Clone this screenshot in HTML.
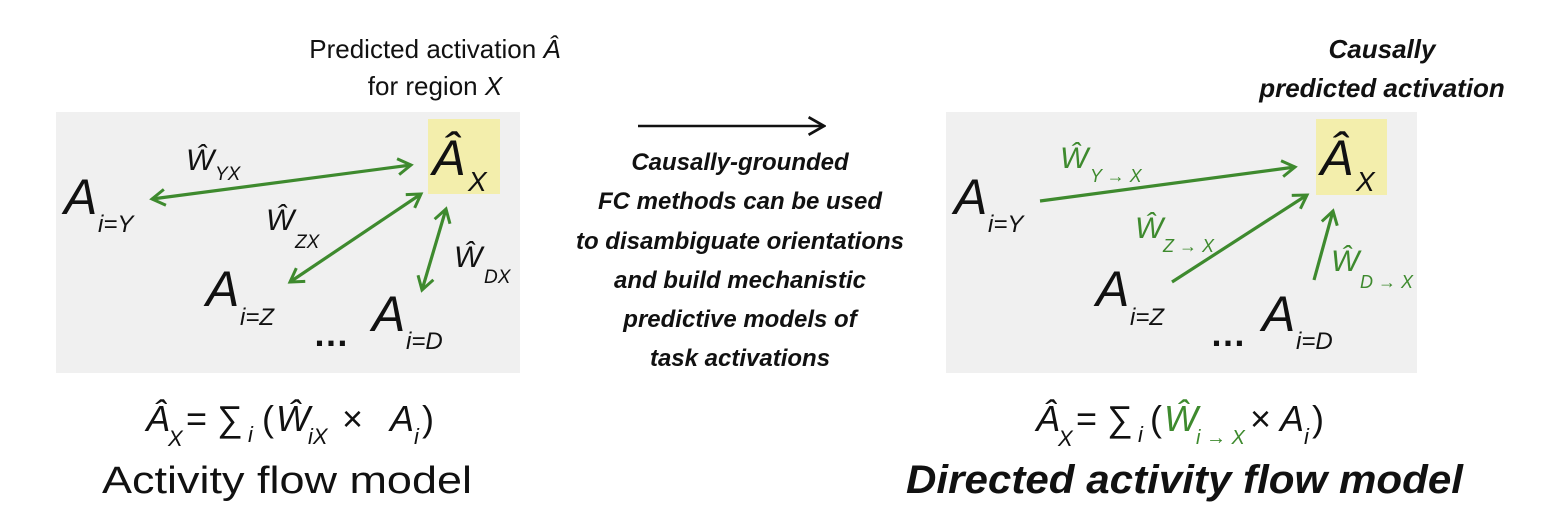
<!DOCTYPE html>
<html><head><meta charset="utf-8"><style>
html,body{margin:0;padding:0;background:#fff;width:1568px;height:530px;overflow:hidden}
svg{display:block}
text{font-family:"Liberation Sans",sans-serif}
.it{font-style:italic}
</style></head><body>
<svg width="1568" height="530" viewBox="0 0 1568 530" xmlns="http://www.w3.org/2000/svg">
<defs>
<marker id="ah" viewBox="0 0 20 20" refX="17" refY="10" markerWidth="20" markerHeight="20" markerUnits="userSpaceOnUse" orient="auto-start-reverse">
<path d="M4,2 L17,10 L4,18" fill="none" stroke="#3e8a2e" stroke-width="3"/>
</marker>
<marker id="bk" viewBox="0 0 20 20" refX="18" refY="10" markerWidth="22" markerHeight="22" markerUnits="userSpaceOnUse" orient="auto">
<path d="M4,2 L18,10 L4,18" fill="none" stroke="#111" stroke-width="2.5"/>
</marker>
</defs>

<!-- Left panel -->
<text x="435" y="58" font-size="26" text-anchor="middle" fill="#111">Predicted activation <tspan class="it">Â</tspan></text>
<text x="435" y="95" font-size="26" text-anchor="middle" fill="#111">for region <tspan class="it">X</tspan></text>
<rect x="56" y="112" width="464" height="261" fill="#f0f0f0"/>
<rect x="428" y="119" width="72" height="75" fill="#f3eeac"/>
<text x="432" y="175" font-size="50" class="it" fill="#111">Â</text>
<text x="468" y="191" font-size="28" class="it" fill="#111">X</text>

<g stroke="#3e8a2e" stroke-width="3.2" fill="none">
<line x1="152" y1="199" x2="411" y2="165" marker-start="url(#ah)" marker-end="url(#ah)"/>
<line x1="290" y1="282" x2="421" y2="194" marker-start="url(#ah)" marker-end="url(#ah)"/>
<line x1="422" y1="290" x2="446" y2="209" marker-start="url(#ah)" marker-end="url(#ah)"/>
</g>
<g fill="#111" class="it">
<text x="186" y="170" font-size="30" class="it">Ŵ</text><text x="215" y="180" font-size="19" class="it">YX</text>
<text x="266" y="230" font-size="30" class="it">Ŵ</text><text x="295" y="248" font-size="19" class="it">ZX</text>
<text x="454" y="267" font-size="30" class="it">Ŵ</text><text x="484" y="283" font-size="19" class="it">DX</text>
<text x="64" y="214" font-size="50" class="it">A</text><text x="98" y="232" font-size="24" class="it">i=Y</text>
<text x="206" y="306" font-size="50" class="it">A</text><text x="240" y="325" font-size="24" class="it">i=Z</text>
<text x="372" y="331" font-size="50" class="it">A</text><text x="406" y="349" font-size="24" class="it">i=D</text>
</g>
<text x="313" y="346" font-size="36" fill="#111" font-weight="bold">…</text>

<text x="146" y="431" font-size="36" class="it" fill="#111">Â</text>
<text x="168" y="446" font-size="22" class="it" fill="#111">X</text>
<text x="186" y="431" font-size="36" fill="#111">= ∑</text>
<text x="248" y="442" font-size="22" class="it" fill="#111">i</text>
<text x="262" y="431" font-size="36" fill="#111">(</text>
<text x="276" y="431" font-size="36" class="it" fill="#111">Ŵ</text>
<text x="308" y="444" font-size="22" class="it" fill="#111">iX</text>
<text x="342" y="431" font-size="36" fill="#111">×</text>
<text x="390" y="431" font-size="36" class="it" fill="#111">A</text>
<text x="414" y="444" font-size="22" class="it" fill="#111">i</text>
<text x="422" y="431" font-size="36" fill="#111">)</text>
<text x="102" y="493" font-size="38" fill="#111" textLength="370" lengthAdjust="spacingAndGlyphs">Activity flow model</text>

<!-- Middle -->
<line x1="638" y1="126" x2="824" y2="126" stroke="#111" stroke-width="2.5" marker-end="url(#bk)"/>
<g font-size="24" font-weight="bold" class="it" fill="#111" text-anchor="middle">
<text x="740" y="170">Causally-grounded</text>
<text x="740" y="209">FC methods can be used</text>
<text x="740" y="249">to disambiguate orientations</text>
<text x="740" y="288">and build mechanistic</text>
<text x="740" y="327">predictive models of</text>
<text x="740" y="366">task activations</text>
</g>

<!-- Right panel -->
<text x="1382" y="58" font-size="26" font-weight="bold" class="it" fill="#111" text-anchor="middle">Causally</text>
<text x="1382" y="97" font-size="26" font-weight="bold" class="it" fill="#111" text-anchor="middle">predicted activation</text>
<rect x="946" y="112" width="471" height="261" fill="#f0f0f0"/>
<rect x="1316" y="119" width="71" height="76" fill="#f3eeac"/>
<text x="1320" y="175" font-size="50" class="it" fill="#111">Â</text>
<text x="1356" y="191" font-size="28" class="it" fill="#111">X</text>
<g stroke="#3e8a2e" stroke-width="3.2" fill="none">
<line x1="1040" y1="201" x2="1295" y2="167" marker-end="url(#ah)"/>
<line x1="1172" y1="282" x2="1307" y2="195" marker-end="url(#ah)"/>
<line x1="1314" y1="280" x2="1333" y2="211" marker-end="url(#ah)"/>
</g>
<g fill="#3e8a2e">
<text x="1060" y="168" font-size="30" class="it">Ŵ</text><text x="1090" y="182" font-size="18" class="it">Y → X</text>
<text x="1135" y="238" font-size="30" class="it">Ŵ</text><text x="1163" y="252" font-size="18" class="it">Z → X</text>
<text x="1331" y="271" font-size="30" class="it">Ŵ</text><text x="1360" y="288" font-size="18" class="it">D → X</text>
</g>
<g fill="#111">
<text x="954" y="214" font-size="50" class="it">A</text><text x="988" y="232" font-size="24" class="it">i=Y</text>
<text x="1096" y="306" font-size="50" class="it">A</text><text x="1130" y="325" font-size="24" class="it">i=Z</text>
<text x="1262" y="331" font-size="50" class="it">A</text><text x="1296" y="349" font-size="24" class="it">i=D</text>
</g>
<text x="1210" y="346" font-size="36" fill="#111" font-weight="bold">…</text>

<text x="1036" y="431" font-size="36" class="it" fill="#111">Â</text>
<text x="1058" y="446" font-size="22" class="it" fill="#111">X</text>
<text x="1076" y="431" font-size="36" fill="#111">= ∑</text>
<text x="1138" y="442" font-size="22" class="it" fill="#111">i</text>
<text x="1150" y="431" font-size="36" fill="#111">(</text>
<text x="1164" y="431" font-size="36" class="it" fill="#3e8a2e">Ŵ</text>
<text x="1196" y="444" font-size="20" class="it" fill="#3e8a2e">i → X</text>
<text x="1250" y="431" font-size="36" fill="#111">×</text>
<text x="1280" y="431" font-size="36" class="it" fill="#111">A</text>
<text x="1304" y="444" font-size="22" class="it" fill="#111">i</text>
<text x="1312" y="431" font-size="36" fill="#111">)</text>
<text x="906" y="493" font-size="40" font-weight="bold" class="it" fill="#111" textLength="557" lengthAdjust="spacingAndGlyphs">Directed activity flow model</text>
</svg>
</body></html>
